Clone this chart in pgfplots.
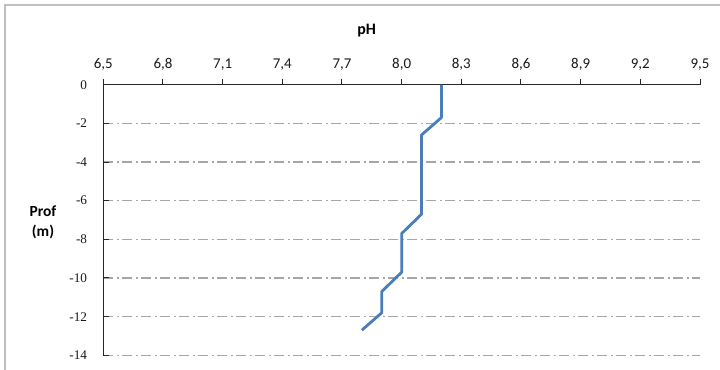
\documentclass[border=0pt]{standalone}
\usepackage{fontspec}
\setmainfont{Carlito}
\newfontfamily\timesfont{Liberation Serif}
\usepackage{pgfplots}
\pgfplotsset{compat=1.18}
\definecolor{phblue}{HTML}{4A7EBB}
\definecolor{gridgray}{HTML}{A6A6A6}
\definecolor{framegray}{HTML}{BFBFBF}
\newcommand{\xlabfont}{\fontsize{15}{16}\selectfont}
\newcommand{\ylabfont}{\fontsize{13.3}{14}\timesfont}
\begin{document}
\begin{tikzpicture}
\useasboundingbox (0,0) rectangle (720bp,370bp);
% outer chart frame
\draw[framegray, line width=1.6bp] (5bp,0) -- (5bp,365bp) -- (720bp,365bp);
\begin{axis}[
  scale only axis,
  width=596.7bp, height=270.6bp,
  at={(103.3bp,14.7bp)}, anchor=south west,
  xmin=6.5, xmax=9.5, ymin=-14, ymax=0,
  axis x line*=top, axis y line*=left,
  axis line style={black!85, line width=1bp},
  xtick={6.5,6.8,7.1,7.4,7.7,8.0,8.3,8.6,8.9,9.2,9.5},
  ytick={-14,-12,-10,-8,-6,-4,-2,0},
  tick align=inside,
  major tick length=6bp,
  every tick/.style={black!85, line width=1bp},
  % pH ticks point up, away from the plot
  xtick style={yshift=6bp},
  /pgf/number format/assume math mode=true,
  xticklabel={\xlabfont\pgfmathprintnumber[fixed,fixed zerofill,precision=1,use comma]{\tick}},
  yticklabel={\ylabfont\pgfmathprintnumber{\tick}},
  xticklabel style={color=black!90, anchor=base, inner sep=0pt, yshift=16.6bp},
  yticklabel style={color=black!90, anchor=east, inner sep=0pt, xshift=-16bp},
  ymajorgrids,
  major grid style={gridgray, line width=1.2bp, dash pattern=on 10bp off 3.5bp on 2bp off 3.5bp},
]
\addplot[phblue, line width=2.8bp, line join=round] coordinates {
  (8.2,0) (8.2,-1.7) (8.1,-2.6) (8.1,-6.7) (8.0,-7.7)
  (8.0,-9.7) (7.9,-10.7) (7.9,-11.8) (7.8,-12.7)
};
\end{axis}
\node[font=\fontsize{16}{18}\selectfont\bfseries] at (366.7bp,339bp) {pH};
\node[font=\fontsize{15.5}{20}\selectfont\bfseries, align=center] at (43bp,148bp) {Prof\\(m)};
\end{tikzpicture}
\end{document}
